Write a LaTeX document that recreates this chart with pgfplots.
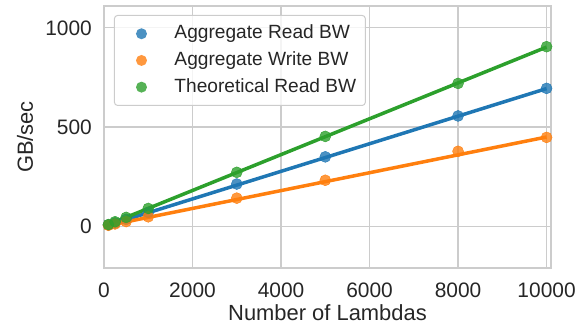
\documentclass[border=0pt]{standalone}
\usepackage{pgfplots}
\usepackage{pgfplotstable}
\pgfplotsset{compat=1.18}
\usepackage{fontspec}
\setmainfont{Liberation Sans}
\definecolor{c1}{HTML}{1F77B4}
\definecolor{c2}{HTML}{FF7F0E}
\definecolor{c3}{HTML}{2CA02C}
\definecolor{gridc}{HTML}{CCCCCC}
\definecolor{txt}{HTML}{262626}
\pgfplotstableread{
x     r    w    t
100   7    5    9
250   17   12   23
500   35   24   45
1000  70   48   90
3000  213  142  272
5000  350  232  453
8000  556  378  720
10000 695  448  905
}\data
\begin{document}
\begin{tikzpicture}
\begin{axis}[
 scale only axis, width=447bp, height=262bp,
 xmin=0, xmax=10100, ymin=-210, ymax=1110,
 xtick={0,2000,4000,6000,8000,10000}, ytick={0,500,1000},
 major tick length=0pt,
 grid=major, major grid style={gridc, line width=1.2bp},
 axis line style={gridc, line width=1.2bp},
 /pgf/number format/assume math mode=true,
 /pgf/number format/set thousands separator={},
 scaled ticks=false,
 tick label style={font=\fontsize{21}{25}\selectfont, text=txt, inner sep=0pt},
 xticklabel shift=14.5bp, yticklabel shift=12bp,
 xlabel={Number of Lambdas}, ylabel={GB/sec},
 label style={font=\fontsize{22}{26}\selectfont, text=txt, inner sep=0pt},
 xlabel style={at={(axis description cs:0.5,-0.1375)}, anchor=north},
 ylabel style={at={(axis description cs:-0.158,0.5)}, anchor=south},
 legend style={at={(axis description cs:0,1)}, anchor=north west, xshift=10bp, yshift=-9bp,
   draw=gridc, line width=1bp, rounded corners=3bp, fill=white, fill opacity=0.8, text opacity=1,
   text=txt, font=\fontsize{19.2}{23}\selectfont, inner xsep=9bp, inner ysep=9.5bp,
   row sep=9.2bp, column sep=27.5bp,
   nodes={inner sep=0pt, text height=14bp, text depth=3.5bp}},
 legend cell align=left,
 legend image code/.code={\path[draw=none,fill=none] (0bp,0bp) -- (12bp,0bp); \fill[#1, draw=none, fill opacity=0.8] (18bp,0bp) circle (5.5bp);},
]
\addplot[color=c1, only marks, mark=*, mark size=5.5bp, mark options={draw=none, fill=c1, fill opacity=0.8}] table[x=x, y=r] {\data};
\addlegendentry{Aggregate Read BW}
\addplot[c1, line width=3.5bp, forget plot] coordinates {(0,-1) (10000,694)};
\addplot[color=c2, only marks, mark=*, mark size=5.5bp, mark options={draw=none, fill=c2, fill opacity=0.8}] table[x=x, y=w] {\data};
\addlegendentry{Aggregate Write BW}
\addplot[c2, line width=3.5bp, forget plot] coordinates {(0,0) (10000,450)};
\addplot[color=c3, only marks, mark=*, mark size=5.5bp, mark options={draw=none, fill=c3, fill opacity=0.8}] table[x=x, y=t] {\data};
\addlegendentry{Theoretical Read BW}
\addplot[c3, line width=3.5bp, forget plot] coordinates {(0,0) (10000,903)};
\end{axis}
\pgfresetboundingbox
\path ([shift={(-104bp,-58bp)}]current axis.south west) rectangle ([shift={(36bp,6bp)}]current axis.north east);
\end{tikzpicture}
\end{document}
